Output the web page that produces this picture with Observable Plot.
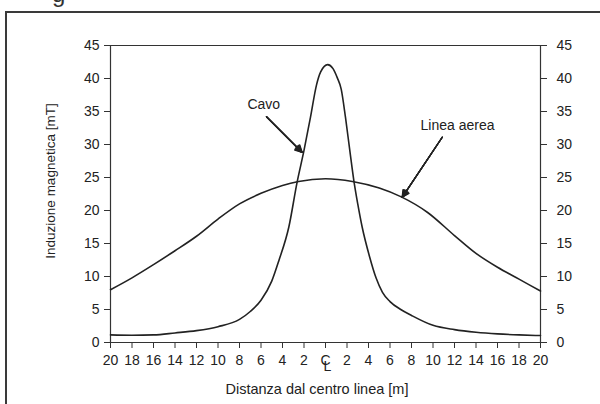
<!DOCTYPE html>
<html><head><meta charset="utf-8">
<script src="https://cdn.jsdelivr.net/npm/d3@7"></script>
<script src="https://cdn.jsdelivr.net/npm/@observablehq/plot@0.6"></script>
<style>
html,body{margin:0;padding:0;background:#fff;width:600px;height:404px;overflow:hidden;}
#wrap{position:relative;width:600px;height:404px;overflow:hidden;}
#frame{position:absolute;left:5px;top:11px;width:700px;height:500px;border-left:2px solid #3a3a3a;border-top:2px solid #3a3a3a;}
#frag{position:absolute;left:52px;top:-20px;font:24px "Liberation Sans",Arial,sans-serif;color:#333;}
#chart{position:absolute;left:0;top:0;}
</style></head><body>
<div id="wrap"><div id="frame"></div><div id="frag">g</div><div id="chart"></div></div>
<script>
// Cavo (underground cable)
const cavoDist = [-20,-18,-16,-14,-12,-10,-8,-7,-6,-5,-4.34,-3.41,-2.64,-2.0,-1.4,-0.84,-0.45,0.2,0.7,1.1,1.46,1.86,2.26,2.64,3.0,3.41,4.1,4.7,5.3,6.0,7.0,8,10,12,14,16,18,20];
const cavoVal  = [1.15,1.1,1.15,1.45,1.8,2.4,3.5,4.7,6.4,9.3,12.4,17.5,24.3,29.1,34.1,39.0,41.0,42.1,41.5,40.1,38.4,34.1,29.1,24.5,21.0,17.5,13.0,9.8,7.6,6.2,5.0,4.1,2.6,1.95,1.55,1.3,1.15,1.05];
// Linea aerea (overhead line)
const aereaDist = [-20,-18,-16,-14,-12,-10,-8,-6,-4,-2.5,0,2.5,5,7,9.5,12,14,16,18,20];
const aereaVal  = [8.0,9.8,11.8,13.9,16.1,18.7,21.0,22.6,23.8,24.4,24.8,24.4,23.4,22.1,19.7,16.2,13.5,11.4,9.6,7.8];
// axes
const xTicks = [-20,-18,-16,-14,-12,-10,-8,-6,-4,-2,0,2,4,6,8,10,12,14,16,18,20];
const yTicks = [0,5,10,15,20,25,30,35,40,45];
const xTitle = "Distanza dal centro linea [m]";
const yTitle = "Induzione magnetica [mT]";
// annotations
const labelText = ["Cavo","Linea aerea"];
const labelX = [-5.74, 12.28];
const labelY = [36.1, 32.9];
const arrowFromX = [-5.49, 10.86];
const arrowFromY = [34.2, 31.1];
const arrowToX = [-2.17, 7.13];
const arrowToY = [28.8, 22.0];

const cavo = cavoDist.map((d,i)=>({x:d, y:cavoVal[i]}));
const aerea = aereaDist.map((d,i)=>({x:d, y:aereaVal[i]}));
const arrows = arrowFromX.map((d,i)=>({x1:d, y1:arrowFromY[i], x2:arrowToX[i], y2:arrowToY[i]}));
const labels = labelText.map((t,i)=>({t, x:labelX[i], y:labelY[i]}));
const ink = "#222";
const headAngles = [55,45,35,25,15];

const plot = Plot.plot({
  width: 600, height: 404,
  marginLeft: 110, marginRight: 60, marginTop: 45, marginBottom: 62,
  x: {domain: [-20, 20]},
  y: {domain: [0, 45]},
  style: {fontFamily: '"Liberation Sans", Arial, sans-serif', fontSize: "14px", color: ink, background: "transparent"},
  marks: [
    Plot.axisY({ticks: yTicks, anchor: "left", tickSize: 6, tickPadding: 5, label: null, stroke: "#333"}),
    Plot.axisY({ticks: yTicks, anchor: "right", tickSize: 6, tickPadding: 10, label: null, stroke: "#333"}),
    Plot.axisX({ticks: xTicks, anchor: "bottom", tickSize: 6, tickPadding: 7, label: null, stroke: "#333",
      tickFormat: d => d === 0 ? "C" : String(Math.abs(d))}),
    Plot.text([0], {x: d => d, text: () => "L", frameAnchor: "bottom", lineAnchor: "top", dy: 18.5, dx: 2, fontSize: 14, fill: ink}),
    Plot.ruleX([-20, 20], {stroke: "#333", strokeWidth: 1.2}),
    Plot.ruleY([0, 45], {stroke: "#333", strokeWidth: 1.2, insetLeft: -6, insetRight: -6}),
    Plot.line(aerea, {x: "x", y: "y", curve: "monotone-x", stroke: ink, strokeWidth: 1.6}),
    Plot.line(cavo, {x: "x", y: "y", curve: "monotone-x", stroke: ink, strokeWidth: 1.6}),
    ...headAngles.map(a => Plot.arrow(arrows, {x1: "x1", y1: "y1", x2: "x2", y2: "y2", stroke: ink, strokeWidth: 1.3, headLength: 9, headAngle: a})),
    Plot.text(labels, {x: "x", y: "y", text: "t", fontSize: 14, fill: ink})
  ]
});
const svg = d3.select(plot);
svg.append("text").attr("x", 317).attr("y", 389).attr("text-anchor", "middle").attr("dominant-baseline", "central")
  .attr("font-size", 14.5).attr("fill", ink).text(xTitle);
svg.append("text").attr("transform", "translate(50,181) rotate(-90)").attr("text-anchor", "middle").attr("dominant-baseline", "central")
  .attr("font-size", 13.5).attr("fill", ink).text(yTitle);
document.getElementById("chart").appendChild(plot);
</script>
</body></html>
